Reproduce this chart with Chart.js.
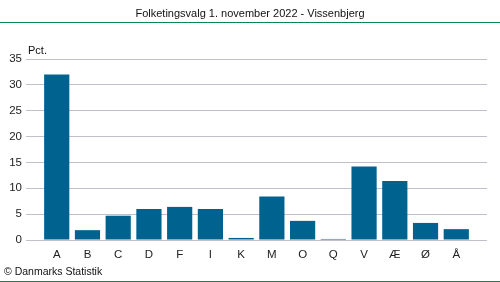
<!DOCTYPE html>
<html>
<head>
<meta charset="utf-8">
<script src="https://cdn.jsdelivr.net/npm/chart.js@4/dist/chart.umd.min.js"></script>
<style>
  html, body { margin: 0; padding: 0; background: #fff; }
  #wrap { width: 500px; height: 282px; position: relative; }
</style>
</head>
<body>
<div id="wrap"><canvas id="chart" width="500" height="282"></canvas></div>
<script>
// data
const partier = ['A', 'B', 'C', 'D', 'F', 'I', 'K', 'M', 'O', 'Q', 'V', 'Æ', 'Ø', 'Å'];
const procent = [32.0, 1.9, 4.7, 6.0, 6.4, 6.0, 0.4, 8.4, 3.7, 0.2, 14.2, 11.4, 3.3, 2.1];
const yTicks = [0, 5, 10, 15, 20, 25, 30, 35];

const titel = 'Folketingsvalg 1. november 2022 - Vissenbjerg';
const kilde = '© Danmarks Statistik';
const enhed = 'Pct.';

const FONT = '"Liberation Sans", Arial, sans-serif';
const GREEN = '#0a8a4a';

// empty slot at each end so the bars sit like in the reference
const labels = [''].concat(partier, ['']);
const values = [null].concat(procent, [null]);

const decor = {
    id: 'decor',
    afterDraw(chart) {
        const ctx = chart.ctx;
        ctx.save();
        ctx.fillStyle = '#111';
        ctx.font = '11px ' + FONT;
        ctx.textAlign = 'center';
        ctx.textBaseline = 'middle';
        ctx.fillText(titel, 250, 14);

        ctx.strokeStyle = GREEN;
        ctx.lineWidth = 1;
        ctx.beginPath();
        ctx.moveTo(0, 22.5);
        ctx.lineTo(500, 22.5);
        ctx.moveTo(0, 281.5);
        ctx.lineTo(500, 281.5);
        ctx.stroke();

        ctx.textAlign = 'left';
        ctx.fillText(enhed, 28, 51);
        ctx.font = '10.5px ' + FONT;
        ctx.fillText(kilde, 4, 272);
        ctx.restore();
    }
};

new Chart(document.getElementById('chart'), {
    type: 'bar',
    data: {
        labels: labels,
        datasets: [{
            data: values,
            backgroundColor: '#00628f',
            barPercentage: 0.82,
            categoryPercentage: 1
        }]
    },
    options: {
        responsive: false,
        animation: false,
        layout: { padding: { top: 59, right: 13, left: 0, bottom: 0 } },
        plugins: {
            legend: { display: false },
            tooltip: { enabled: false }
        },
        scales: {
            x: {
                offset: false,
                grid: { display: false, drawTicks: false },
                border: { display: false },
                ticks: {
                    color: '#222',
                    font: { family: FONT, size: 11.5 },
                    padding: 8,
                    maxRotation: 0,
                    autoSkip: false
                },
                afterFit(scale) { scale.height = 42; }
            },
            y: {
                min: 0,
                max: 35,
                afterBuildTicks(scale) { scale.ticks = yTicks.map(v => ({ value: v })); },
                grid: { color: '#c0c0c8', lineWidth: 1, drawTicks: false },
                border: { display: false },
                ticks: {
                    color: '#222',
                    font: { family: FONT, size: 11.5 },
                    padding: 4
                },
                afterFit(scale) { scale.width = 26; }
            }
        }
    },
    plugins: [decor]
});
</script>
</body>
</html>
